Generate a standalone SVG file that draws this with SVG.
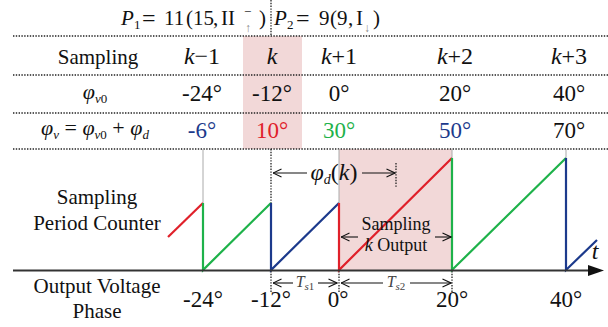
<svg xmlns="http://www.w3.org/2000/svg" width="608" height="327" viewBox="0 0 608 327" font-family="'Liberation Serif', 'DejaVu Serif', serif">
<defs>
<style>
text{font-family:'Liberation Serif','DejaVu Serif',serif;fill:#111}
.it{font-style:italic}
.dot{stroke:#222;stroke-width:1.3;stroke-dasharray:1.4 1.4;fill:none}
.thin{stroke:#aaa;stroke-width:1;fill:none}
.ar{stroke:#111;stroke-width:1.1;fill:none}
.w{fill:none;stroke-width:2.2;stroke-linejoin:miter}
.red{stroke:#e0202a}.grn{stroke:#1eb24a}.blu{stroke:#1c3a8c}
.fr{fill:#e0202a}.fg{fill:#1eb24a}.fb{fill:#1c3a8c}
.hd{font-size:24px;text-anchor:middle}
.nm{font-size:23px;text-anchor:middle}
.lb{font-size:21px;text-anchor:middle}
.pk{fill:#f2d8d8}
.tt{font-size:21px}
.eq{font-size:24px}
.sb{font-size:13px}
.arw{font-size:12px;fill:#888}
</style>
<marker id="ah" viewBox="0 0 10 10" refX="9.5" refY="5" markerWidth="10" markerHeight="10" markerUnits="userSpaceOnUse" orient="auto-start-reverse">
<path d="M1,1 L9.5,5 L1,9" fill="none" stroke="#111" stroke-width="1.1"/>
</marker>
</defs>
<rect width="608" height="327" fill="#fff"/>

<g id="highlight">
<rect class="pk" x="243" y="36" width="59" height="113"/>
<rect class="pk" x="339" y="149" width="113" height="121"/>
</g>

<g id="title">
<line class="dot" x1="271" y1="0" x2="271" y2="36"/>
<text class="tt it" x="121" y="25">P</text>
<text class="sb" x="134" y="29">1</text>
<text class="eq" x="142" y="26">=</text>
<text class="tt" x="164" y="25">11</text>
<text class="tt" x="186" y="25">(</text>
<text class="tt" x="193" y="25">15</text>
<text class="tt" x="213" y="25">,</text>
<text class="tt" x="221" y="25">II</text>
<text class="sb" x="244" y="16">−</text>
<text class="arw" x="245" y="32">↑</text>
<text class="tt" x="259" y="25">)</text>
<text class="tt it" x="274" y="25">P</text>
<text class="sb" x="287" y="29">2</text>
<text class="eq" x="296" y="26">=</text>
<text class="tt" x="319" y="25">9</text>
<text class="tt" x="330" y="25">(</text>
<text class="tt" x="337" y="25">9</text>
<text class="tt" x="348" y="25">,</text>
<text class="tt" x="356" y="25">I</text>
<text class="arw" x="364" y="32">↓</text>
<text class="tt" x="373" y="25">)</text>
</g>

<g id="table">
<line class="dot" x1="13" y1="36" x2="608" y2="36"/>
<line class="dot" x1="13" y1="75" x2="608" y2="75"/>
<line class="dot" x1="13" y1="113" x2="608" y2="113"/>
<line class="dot" x1="13" y1="149" x2="608" y2="149"/>
<text class="lb" x="98" y="64">Sampling</text>
<text class="hd" x="202" y="64"><tspan class="it">k</tspan>−1</text>
<text class="hd" x="272" y="64"><tspan class="it">k</tspan></text>
<text class="hd" x="339" y="64"><tspan class="it">k</tspan>+1</text>
<text class="hd" x="455" y="64"><tspan class="it">k</tspan>+2</text>
<text class="hd" x="569" y="64"><tspan class="it">k</tspan>+3</text>
<text x="95" y="99" font-size="22" text-anchor="middle"><tspan class="it">φ</tspan><tspan class="it" font-size="13" dy="4">v</tspan><tspan font-size="13">0</tspan></text>
<text class="nm" x="202" y="101">-24°</text>
<text class="nm" x="272" y="101">-12°</text>
<text class="nm" x="339" y="101">0°</text>
<text class="nm" x="455" y="101">20°</text>
<text class="nm" x="569" y="101">40°</text>
<text x="95" y="135" font-size="22" text-anchor="middle"><tspan class="it">φ</tspan><tspan class="it" font-size="13" dy="4">v</tspan><tspan dy="-4"> = </tspan><tspan class="it">φ</tspan><tspan class="it" font-size="13" dy="4">v</tspan><tspan font-size="13">0</tspan><tspan dy="-4"> + </tspan><tspan class="it">φ</tspan><tspan class="it" font-size="13" dy="4">d</tspan></text>
<text class="nm fb" x="202" y="138">-6°</text>
<text class="nm fr" x="272" y="138">10°</text>
<text class="nm fg" x="339" y="138">30°</text>
<text class="nm fb" x="455" y="138">50°</text>
<text class="nm" x="569" y="138">70°</text>
</g>

<g id="labels">
<text class="lb" x="97" y="204">Sampling</text>
<text class="lb" x="97" y="230">Period Counter</text>
<text class="lb" x="97" y="293">Output Voltage</text>
<text class="lb" x="97" y="318">Phase</text>
</g>

<g id="guides">
<line class="thin" x1="203" y1="149" x2="203" y2="203"/>
<line class="thin" x1="339" y1="149" x2="339" y2="203"/>
<line class="thin" x1="452" y1="149" x2="452" y2="158"/>
<line class="thin" x1="566" y1="149" x2="566" y2="158"/>
<line class="dot" x1="271" y1="149" x2="271" y2="203"/>
<line class="dot" x1="396" y1="163" x2="396" y2="188"/>
<line class="dot" x1="271" y1="271" x2="271" y2="293"/>
<line class="dot" x1="339" y1="271" x2="339" y2="293"/>
<line class="dot" x1="452" y1="271" x2="452" y2="293"/>
</g>

<g id="waveform">
<polyline class="w red" points="168,237 203,203"/>
<polyline class="w grn" points="203,203 203,270 271,203"/>
<polyline class="w blu" points="271,203 271,270 339,203"/>
<polyline class="w red" points="339,203 339,270 452,158"/>
<polyline class="w grn" points="452,158 452,270 566,158"/>
<polyline class="w blu" points="566,158 566,270 597,240"/>
</g>

<g id="axis">
<line x1="13" y1="270.5" x2="592" y2="270.5" stroke="#333" stroke-width="2"/>
<polygon points="588,265 604,270.5 588,276" fill="#111"/>
<text x="595" y="259" font-size="24" class="it" text-anchor="middle">t</text>
<text class="nm" x="203" y="307">-24°</text>
<text class="nm" x="271" y="307">-12°</text>
<text class="nm" x="338" y="307">0°</text>
<text class="nm" x="452" y="307">20°</text>
<text class="nm" x="566" y="307">40°</text>
</g>

<g id="connectors">
<line class="ar" x1="307" y1="173" x2="273" y2="173" marker-end="url(#ah)"/>
<line class="ar" x1="362" y1="173" x2="395" y2="173" marker-end="url(#ah)"/>
<line class="ar" x1="358" y1="237" x2="341" y2="237" marker-end="url(#ah)"/>
<line class="ar" x1="435" y1="237" x2="451" y2="237" marker-end="url(#ah)"/>
<line class="ar" x1="293" y1="283" x2="273" y2="283" marker-end="url(#ah)"/>
<line class="ar" x1="318" y1="283" x2="337" y2="283" marker-end="url(#ah)"/>
<line class="ar" x1="383" y1="283" x2="341" y2="283" marker-end="url(#ah)"/>
<line class="ar" x1="410" y1="283" x2="451" y2="283" marker-end="url(#ah)"/>
</g>

<g id="annotations">
<text x="334" y="180" font-size="24" text-anchor="middle"><tspan class="it">φ</tspan><tspan class="it" font-size="14" dy="4">d</tspan><tspan dy="-4">(</tspan><tspan class="it">k</tspan>)</text>
<text x="396" y="230" font-size="18" text-anchor="middle">Sampling</text>
<text x="396" y="251" font-size="18" text-anchor="middle"><tspan class="it">k</tspan> Output</text>
<text x="305" y="287" font-size="16" text-anchor="middle" style="fill:#444"><tspan class="it">T</tspan><tspan class="it" font-size="11" dy="3">s</tspan><tspan font-size="11">1</tspan></text>
<text x="396" y="287" font-size="16" text-anchor="middle" style="fill:#444"><tspan class="it">T</tspan><tspan class="it" font-size="11" dy="3">s</tspan><tspan font-size="11">2</tspan></text>
</g>
</svg>
